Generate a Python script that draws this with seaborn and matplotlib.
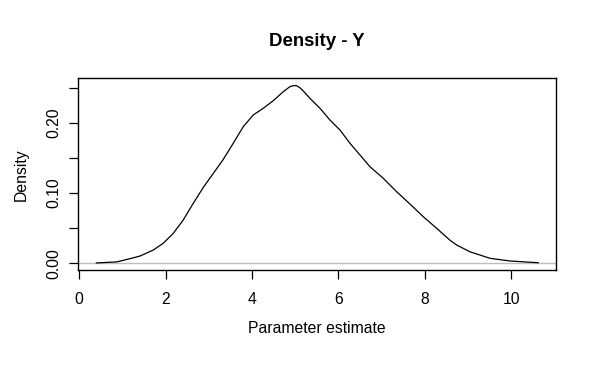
import matplotlib
matplotlib.use("Agg")
import matplotlib.pyplot as plt
import seaborn as sns
import pandas as pd

# Density curve
param_estimate = [0.39, 0.87, 1.20, 1.408, 1.713, 1.944, 2.176, 2.407, 2.639, 2.870,
                  3.102, 3.333, 3.565, 3.796, 4.028, 4.259, 4.491, 4.722, 4.877, 4.954,
                  5.03, 5.109, 5.185, 5.34, 5.572, 5.803, 6.035, 6.266, 6.498, 6.729,
                  7.037, 7.347, 7.655, 7.963, 8.273, 8.58, 8.736, 9.04, 9.51, 9.97,
                  10.63]
density = [0.0005, 0.002, 0.007, 0.0104, 0.0189, 0.0285, 0.0427, 0.0617, 0.0855, 0.108,
           0.128, 0.148, 0.171, 0.1946, 0.2113, 0.2208, 0.2316, 0.2444, 0.2516, 0.253,
           0.253, 0.2500, 0.2455, 0.235, 0.2208, 0.2041, 0.1899, 0.171, 0.1543, 0.1376,
           0.1211, 0.102, 0.0845, 0.0664, 0.0499, 0.0330, 0.0261, 0.0165, 0.0071, 0.0033,
           0.0008]

x_ticks = [0, 2, 4, 6, 8, 10]
y_ticks = [0.00, 0.05, 0.10, 0.15, 0.20, 0.25]
y_tick_labels = ["0.00", "", "0.10", "", "0.20", ""]

title = "Density - Y"
x_label = "Parameter estimate"
y_label = "Density"

sns.set_style("white")
plt.rcParams["font.family"] = ["Liberation Sans", "DejaVu Sans"]
plt.rcParams["text.color"] = "black"

df = pd.DataFrame({"x": param_estimate, "y": density})

W, H = 596, 368
fig = plt.figure(figsize=(W / 100, H / 100), dpi=100)
left, right, top, bottom = 78.3, 555.7, 78.3, 270.3
ax = fig.add_axes([left / W, 1 - bottom / H, (right - left) / W, (bottom - top) / H])

ax.axhline(0, color="#BEBEBE", lw=1.0, zorder=1)
sns.lineplot(data=df, x="x", y="y", ax=ax, color="black", lw=0.9, zorder=2)

ax.set_xlim(-0.023, 11.03)
ax.set_ylim(-0.00997, 0.2635)
ax.set_xticks(x_ticks)
ax.set_xticklabels([str(t) for t in x_ticks])
ax.set_yticks(y_ticks)
ax.set_yticklabels(y_tick_labels)

for s in ax.spines.values():
    s.set_visible(True)
    s.set_color("black")
    s.set_linewidth(1.0)

ax.tick_params(axis="both", direction="out", length=6.5, width=0.9, color="black",
               labelsize=11.3, labelcolor="black", bottom=True, left=True)
ax.tick_params(axis="x", pad=9)
ax.tick_params(axis="y", pad=6, labelrotation=90)
for lab in ax.get_yticklabels():
    lab.set_verticalalignment("center")

ax.set_xlabel("")
ax.set_ylabel("")
fig.text(317 / W, 1 - 333.3 / H, x_label, ha="center", va="baseline", fontsize=11.3, color="black")
fig.text(21.7 / W, 1 - 174.3 / H, y_label, ha="center", va="center", rotation=90, fontsize=11.3, color="black")
fig.text(317 / W, 1 - 46 / H, title, ha="center", va="baseline", fontsize=13.4, fontweight="bold", color="black")

fig.savefig("out.png", dpi=100)
